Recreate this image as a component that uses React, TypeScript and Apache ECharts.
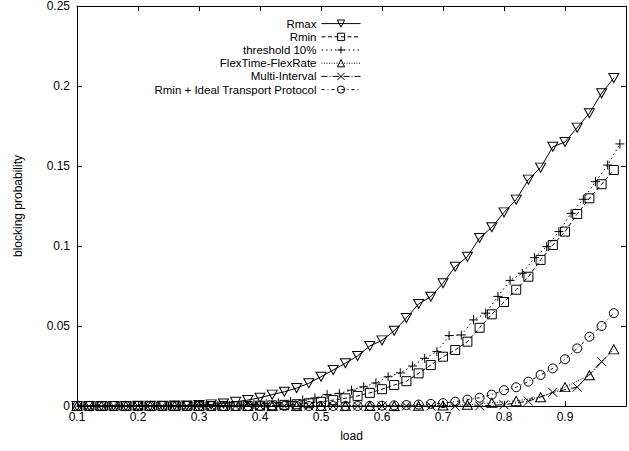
import React, { useEffect, useRef } from "react";
import * as echarts from "echarts";

const loads = [
  0.1, 0.12, 0.14, 0.16, 0.18, 0.2, 0.22, 0.24, 0.26, 0.28,
  0.3, 0.32, 0.34, 0.36, 0.38, 0.4, 0.42, 0.44, 0.46, 0.48,
  0.5, 0.52, 0.54, 0.56, 0.58, 0.6, 0.62, 0.64, 0.66, 0.68,
  0.7, 0.72, 0.74, 0.76, 0.78, 0.8, 0.82, 0.84, 0.86, 0.88,
  0.9, 0.92, 0.94, 0.96, 0.98,
];
const loadsOdd = [
  0.11, 0.13, 0.15, 0.17, 0.19, 0.21, 0.23, 0.25, 0.27, 0.29,
  0.31, 0.33, 0.35, 0.37, 0.39, 0.41, 0.43, 0.45, 0.47, 0.49,
  0.51, 0.53, 0.55, 0.57, 0.59, 0.61, 0.63, 0.65, 0.67, 0.69,
  0.71, 0.73, 0.75, 0.77, 0.79, 0.81, 0.83, 0.85, 0.87, 0.89,
  0.91, 0.93, 0.95, 0.97, 0.99,
];
const loadsFlex = [
  0.1, 0.14, 0.18, 0.22, 0.26, 0.3, 0.34, 0.38, 0.42, 0.46, 0.5, 0.54,
  0.58, 0.62, 0.66, 0.7, 0.74, 0.78, 0.82, 0.86, 0.9, 0.94, 0.98,
];
const loadsMulti = [
  0.12, 0.16, 0.2, 0.24, 0.28, 0.32, 0.36, 0.4, 0.44, 0.48, 0.52,
  0.56, 0.6, 0.64, 0.68, 0.72, 0.76, 0.8, 0.84, 0.88, 0.92, 0.96,
];

const rmax = [
  0, 0, 0, 0, 0, 0.0001, 0.0001, 0.0002, 0.0003, 0.0004,
  0.0006, 0.001, 0.0016, 0.0026, 0.0037, 0.0052, 0.0071, 0.0089, 0.0112, 0.0142,
  0.0183, 0.0225, 0.0267, 0.0313, 0.0375, 0.041, 0.047, 0.055, 0.0638, 0.0683,
  0.0767, 0.087, 0.0933, 0.105, 0.1117, 0.121, 0.129, 0.1415, 0.149, 0.162,
  0.165, 0.174, 0.183, 0.1955, 0.205,
];
const rmin = [
  0, 0, 0, 0, 0, 0, 0, 0, 0, 0,
  0, 0, 0, 0, 0, 0.0002, 0.0004, 0.0007, 0.0011, 0.0017,
  0.0026, 0.0037, 0.0048, 0.0063, 0.0082, 0.0105, 0.0131, 0.0155, 0.0204, 0.0256,
  0.0308, 0.035, 0.0402, 0.0489, 0.0573, 0.065, 0.0727, 0.0808, 0.0913, 0.1006,
  0.109, 0.12, 0.1298, 0.1386, 0.1475,
];
const threshold = [
  0, 0, 0, 0, 0, 0, 0, 0, 0, 0,
  0.0001, 0.0002, 0.0004, 0.0006, 0.001, 0.0014, 0.002, 0.0028, 0.0037, 0.005,
  0.0071, 0.0079, 0.0099, 0.012, 0.0144, 0.0183, 0.0207, 0.025, 0.0298, 0.034,
  0.044, 0.0444, 0.0538, 0.058, 0.0685, 0.0785, 0.083, 0.0927, 0.0996, 0.109,
  0.1204, 0.1292, 0.1402, 0.1506, 0.1638,
];
const flexTime = [
  0, 0, 0, 0, 0, 0, 0, 0, 0, 0, 0, 0,
  0, 0, 0.0001, 0.0003, 0.0008, 0.002, 0.0032, 0.0055, 0.0118, 0.0192, 0.0354,
];
const multiInterval = [
  0, 0, 0, 0, 0, 0, 0, 0, 0, 0, 0,
  0, 0, 0, 0, 0, 0.0001, 0.0008, 0.003, 0.0085, 0.0118, 0.0277,
];
const idealTransport = [
  0, 0, 0, 0, 0, 0, 0, 0, 0, 0,
  0, 0, 0, 0, 0, 0, 0, 0, 0, 0,
  0, 0, 0, 0, 0.0001, 0.0002, 0.0004, 0.0006, 0.0009, 0.0013,
  0.0018, 0.0027, 0.004, 0.0052, 0.0071, 0.0099, 0.0117, 0.0152, 0.0194, 0.0235,
  0.0292, 0.036, 0.0433, 0.05, 0.058,
];

const seriesNames = [
  "Rmax",
  "Rmin",
  "threshold 10%",
  "FlexTime-FlexRate",
  "Multi-Interval",
  "Rmin + Ideal Transport Protocol",
];

const FONT = "Liberation Sans, Arial, Helvetica, sans-serif";
const FS = 12;

const SYM_TRI_DOWN = "path://M0,0L10,0L5,9Z";
const SYM_TRI_UP = "path://M5,0L10,9L0,9Z";
const SYM_SQUARE = "path://M0,0L10,0L10,10L0,10Z";
const SYM_PLUS = "path://M0,5L10,5M5,0L5,10";
const SYM_X = "path://M0,0L10,10M10,0L0,10";
const SYM_CIRCLE = "path://M0,5A5,5,0,1,0,10,5A5,5,0,1,0,0,5Z";

function pairs(xs: number[], ys: number[]) {
  return xs.map((x, i) => [x, ys[i]]);
}

export default function App() {
  const ref = useRef<HTMLDivElement>(null);
  useEffect(() => {
    if (!ref.current) return;
    const chart = echarts.init(ref.current, undefined, { renderer: "svg" });

    const mk = (
      name: string,
      xs: number[],
      ys: number[],
      symbol: string,
      size: number | number[],
      dash: any
    ) => ({
      name,
      type: "line",
      data: pairs(xs, ys),
      symbol,
      symbolSize: size,
      showAllSymbol: true,
      clip: false,
      xAxisIndex: 0,
      yAxisIndex: 0,
      itemStyle: { color: "transparent", borderColor: "#000", borderWidth: 1 },
      lineStyle: { color: "#000", width: 1, type: dash },
      emphasis: { disabled: true },
    });

    const fmtX = (v: number) => (v > 0.95 ? "" : String(+v.toFixed(1)));
    const fmtY = (v: number) => String(+v.toFixed(2));

    chart.setOption({
      animation: false,
      backgroundColor: "#fff",
      textStyle: { fontFamily: FONT },
      grid: { left: 77, right: -2, top: 6, bottom: 45, containLabel: false },
      legend: {
        orient: "vertical",
        right: 263,
        top: 12,
        align: "right",
        itemWidth: 39,
        itemHeight: 9,
        itemGap: 0,
        selectedMode: false,
        itemStyle: { borderWidth: 1, borderColor: "#000" },
        lineStyle: { width: 1, color: "#000" },
        textStyle: {
          color: "#000",
          fontSize: 11.5,
          lineHeight: 13.2,
          fontFamily: FONT,
        },
        data: seriesNames,
      },
      xAxis: [
        {
          type: "value",
          min: 0.1,
          max: 1.0,
          interval: 0.1,
          name: "load",
          nameLocation: "middle",
          nameGap: 24,
          nameTextStyle: { color: "#000", fontSize: FS, fontFamily: FONT },
          axisLine: { show: true, onZero: false, lineStyle: { color: "#000", width: 1 } },
          axisTick: { show: true, inside: true, length: 5, lineStyle: { color: "#000" } },
          axisLabel: { color: "#000", fontSize: FS, margin: 5, fontFamily: FONT, formatter: fmtX },
          splitLine: { show: false },
        },
        {
          type: "value",
          position: "top",
          min: 0.1,
          max: 1.0,
          interval: 0.1,
          axisLine: { show: true, onZero: false, lineStyle: { color: "#000", width: 1 } },
          axisTick: { show: true, inside: true, length: 5, lineStyle: { color: "#000" } },
          axisLabel: { show: false },
          splitLine: { show: false },
        },
      ],
      yAxis: [
        {
          type: "value",
          min: 0,
          max: 0.25,
          interval: 0.05,
          name: "blocking probability",
          nameLocation: "middle",
          nameGap: 53,
          nameTextStyle: { color: "#000", fontSize: FS, fontFamily: FONT },
          axisLine: { show: true, onZero: false, lineStyle: { color: "#000", width: 1 } },
          axisTick: { show: true, inside: true, length: 5, lineStyle: { color: "#000" } },
          axisLabel: { color: "#000", fontSize: FS, margin: 7, fontFamily: FONT, formatter: fmtY },
          splitLine: { show: false },
        },
        {
          type: "value",
          position: "right",
          min: 0,
          max: 0.25,
          interval: 0.05,
          axisLine: { show: true, onZero: false, lineStyle: { color: "#000", width: 1 } },
          axisTick: { show: true, inside: true, length: 5, lineStyle: { color: "#000" } },
          axisLabel: { show: false },
          splitLine: { show: false },
        },
      ],
      series: [
        mk(seriesNames[0], loads, rmax, SYM_TRI_DOWN, [10, 9], "solid"),
        mk(seriesNames[1], loads, rmin, SYM_SQUARE, 9, [4, 2.5]),
        mk(seriesNames[2], loadsOdd, threshold, SYM_PLUS, 9, [1.5, 3]),
        mk(seriesNames[3], loadsFlex, flexTime, SYM_TRI_UP, [10, 9], [1, 1.5]),
        mk(seriesNames[4], loadsMulti, multiInterval, SYM_X, 9, [6, 2, 1, 2]),
        mk(seriesNames[5], loads, idealTransport, SYM_CIRCLE, 9, [3, 3, 1, 3]),
      ],
    });
    return () => chart.dispose();
  }, []);

  return (
    <div
      ref={ref}
      style={{ position: "fixed", left: 0, top: 0, width: 629, height: 451, background: "#fff" }}
    />
  );
}
